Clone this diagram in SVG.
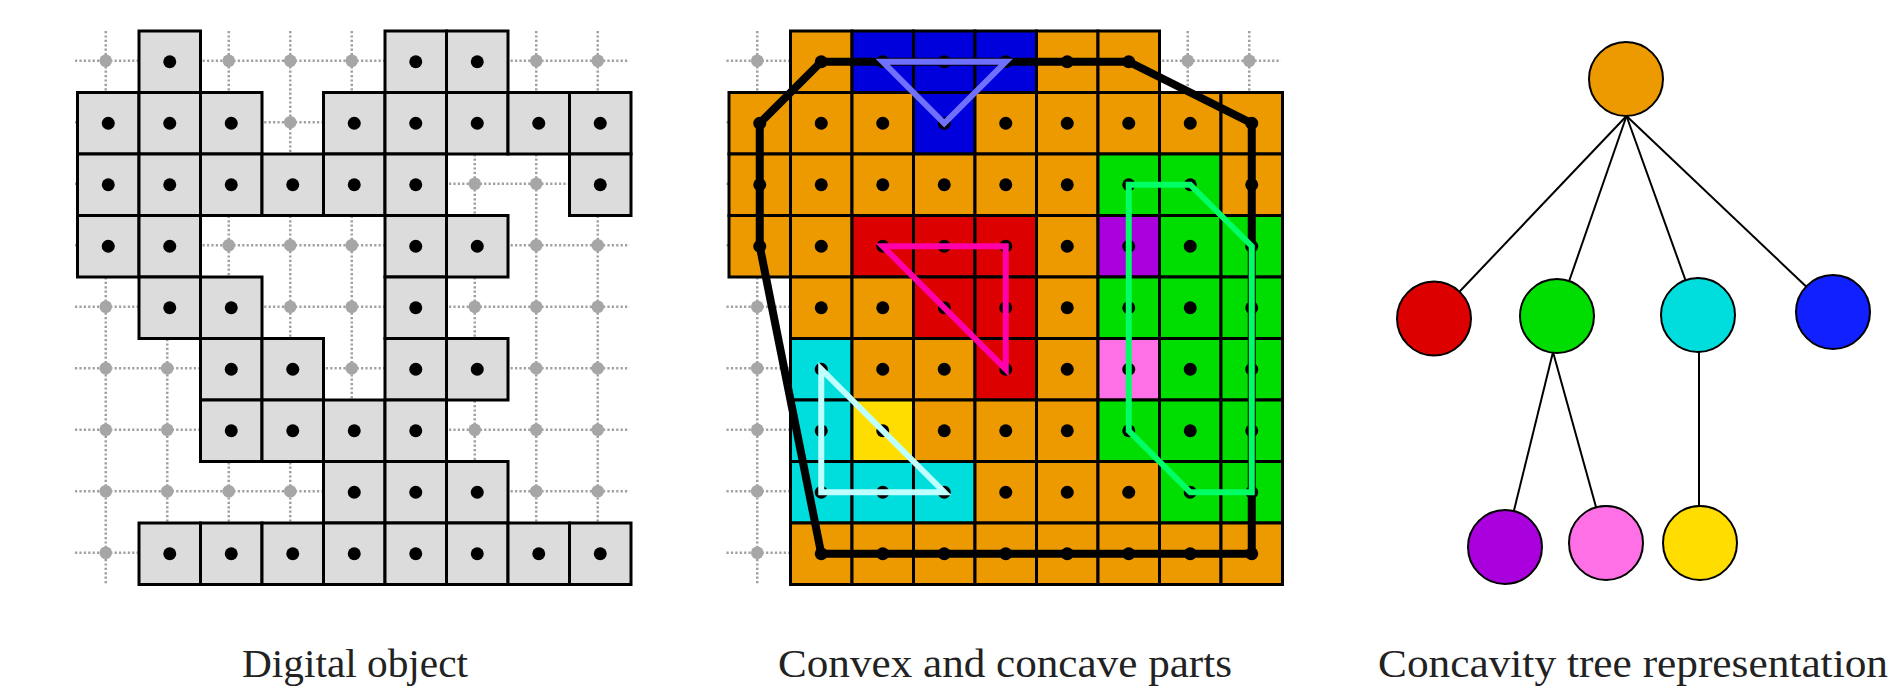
<svg xmlns="http://www.w3.org/2000/svg" xmlns:xlink="http://www.w3.org/1999/xlink" width="1891" height="688" viewBox="0 0 1891 688">
<style>
.grid{fill:none;stroke:#a0a0a0;stroke-width:2.5;stroke-dasharray:2.2 2.2}
.gp{fill:#a6a6a6}
.cell{stroke:#000;stroke-width:3}
.g{fill:#dcdcdc}
.O{fill:#ec9a00}.B{fill:#0000dd}.R{fill:#dd0000}.G{fill:#00dd00}.P{fill:#aa00dd}.K{fill:#ff70e6}.C{fill:#00dddd}.Y{fill:#ffdd00}
.dot{fill:#000}
.hull{fill:none;stroke:#000;stroke-width:8;stroke-linejoin:round}
.cc{fill:none;stroke-width:6;stroke-linejoin:miter}
.edge{stroke:#000;stroke-width:2;fill:none}
.node{stroke:#000;stroke-width:2}
.lbl{font-family:"Liberation Serif","DejaVu Serif",serif;font-size:40px;fill:#222;text-anchor:middle}
</style>
<defs>
<rect id="c" width="61.5" height="61.5"/>
</defs>
<rect width="1891" height="688" fill="#fff"/>

<g id="digital-object">
<path class="grid" d="M105.75 31V584.5M167.25 31V584.5M228.75 31V584.5M290.25 31V584.5M351.75 31V584.5M413.25 31V584.5M474.75 31V584.5M536.25 31V584.5M597.75 31V584.5M75 60.75H629.5M75 122.25H629.5M75 183.75H629.5M75 245.25H629.5M75 306.75H629.5M75 368.25H629.5M75 429.75H629.5M75 491.25H629.5M75 552.75H629.5"/>
<g class="gp">
<circle cx="105.75" cy="60.75" r="6.3"/><circle cx="228.75" cy="60.75" r="6.3"/><circle cx="290.25" cy="60.75" r="6.3"/><circle cx="351.75" cy="60.75" r="6.3"/><circle cx="536.25" cy="60.75" r="6.3"/><circle cx="597.75" cy="60.75" r="6.3"/>
<circle cx="290.25" cy="122.25" r="6.3"/>
<circle cx="474.75" cy="183.75" r="6.3"/><circle cx="536.25" cy="183.75" r="6.3"/>
<circle cx="228.75" cy="245.25" r="6.3"/><circle cx="290.25" cy="245.25" r="6.3"/><circle cx="351.75" cy="245.25" r="6.3"/><circle cx="536.25" cy="245.25" r="6.3"/><circle cx="597.75" cy="245.25" r="6.3"/>
<circle cx="105.75" cy="306.75" r="6.3"/><circle cx="290.25" cy="306.75" r="6.3"/><circle cx="351.75" cy="306.75" r="6.3"/><circle cx="474.75" cy="306.75" r="6.3"/><circle cx="536.25" cy="306.75" r="6.3"/><circle cx="597.75" cy="306.75" r="6.3"/>
<circle cx="105.75" cy="368.25" r="6.3"/><circle cx="167.25" cy="368.25" r="6.3"/><circle cx="351.75" cy="368.25" r="6.3"/><circle cx="536.25" cy="368.25" r="6.3"/><circle cx="597.75" cy="368.25" r="6.3"/>
<circle cx="105.75" cy="429.75" r="6.3"/><circle cx="167.25" cy="429.75" r="6.3"/><circle cx="474.75" cy="429.75" r="6.3"/><circle cx="536.25" cy="429.75" r="6.3"/><circle cx="597.75" cy="429.75" r="6.3"/>
<circle cx="105.75" cy="491.25" r="6.3"/><circle cx="167.25" cy="491.25" r="6.3"/><circle cx="228.75" cy="491.25" r="6.3"/><circle cx="290.25" cy="491.25" r="6.3"/><circle cx="536.25" cy="491.25" r="6.3"/><circle cx="597.75" cy="491.25" r="6.3"/>
<circle cx="105.75" cy="552.75" r="6.3"/>
</g>
<g class="cell g">
<use xlink:href="#c" x="139" y="31"/><use xlink:href="#c" x="385" y="31"/><use xlink:href="#c" x="446.5" y="31"/>
<use xlink:href="#c" x="77.5" y="92.5"/><use xlink:href="#c" x="139" y="92.5"/><use xlink:href="#c" x="200.5" y="92.5"/><use xlink:href="#c" x="323.5" y="92.5"/><use xlink:href="#c" x="385" y="92.5"/><use xlink:href="#c" x="446.5" y="92.5"/><use xlink:href="#c" x="508" y="92.5"/><use xlink:href="#c" x="569.5" y="92.5"/>
<use xlink:href="#c" x="77.5" y="154"/><use xlink:href="#c" x="139" y="154"/><use xlink:href="#c" x="200.5" y="154"/><use xlink:href="#c" x="262" y="154"/><use xlink:href="#c" x="323.5" y="154"/><use xlink:href="#c" x="385" y="154"/><use xlink:href="#c" x="569.5" y="154"/>
<use xlink:href="#c" x="77.5" y="215.5"/><use xlink:href="#c" x="139" y="215.5"/><use xlink:href="#c" x="385" y="215.5"/><use xlink:href="#c" x="446.5" y="215.5"/>
<use xlink:href="#c" x="139" y="277"/><use xlink:href="#c" x="200.5" y="277"/><use xlink:href="#c" x="385" y="277"/>
<use xlink:href="#c" x="200.5" y="338.5"/><use xlink:href="#c" x="262" y="338.5"/><use xlink:href="#c" x="385" y="338.5"/><use xlink:href="#c" x="446.5" y="338.5"/>
<use xlink:href="#c" x="200.5" y="400"/><use xlink:href="#c" x="262" y="400"/><use xlink:href="#c" x="323.5" y="400"/><use xlink:href="#c" x="385" y="400"/>
<use xlink:href="#c" x="323.5" y="461.5"/><use xlink:href="#c" x="385" y="461.5"/><use xlink:href="#c" x="446.5" y="461.5"/>
<use xlink:href="#c" x="139" y="523"/><use xlink:href="#c" x="200.5" y="523"/><use xlink:href="#c" x="262" y="523"/><use xlink:href="#c" x="323.5" y="523"/><use xlink:href="#c" x="385" y="523"/><use xlink:href="#c" x="446.5" y="523"/><use xlink:href="#c" x="508" y="523"/><use xlink:href="#c" x="569.5" y="523"/>
</g>
<g class="dot">
<circle cx="169.75" cy="61.75" r="6.5"/><circle cx="415.75" cy="61.75" r="6.5"/><circle cx="477.25" cy="61.75" r="6.5"/>
<circle cx="108.25" cy="123.25" r="6.5"/><circle cx="169.75" cy="123.25" r="6.5"/><circle cx="231.25" cy="123.25" r="6.5"/><circle cx="354.25" cy="123.25" r="6.5"/><circle cx="415.75" cy="123.25" r="6.5"/><circle cx="477.25" cy="123.25" r="6.5"/><circle cx="538.75" cy="123.25" r="6.5"/><circle cx="600.25" cy="123.25" r="6.5"/>
<circle cx="108.25" cy="184.75" r="6.5"/><circle cx="169.75" cy="184.75" r="6.5"/><circle cx="231.25" cy="184.75" r="6.5"/><circle cx="292.75" cy="184.75" r="6.5"/><circle cx="354.25" cy="184.75" r="6.5"/><circle cx="415.75" cy="184.75" r="6.5"/><circle cx="600.25" cy="184.75" r="6.5"/>
<circle cx="108.25" cy="246.25" r="6.5"/><circle cx="169.75" cy="246.25" r="6.5"/><circle cx="415.75" cy="246.25" r="6.5"/><circle cx="477.25" cy="246.25" r="6.5"/>
<circle cx="169.75" cy="307.75" r="6.5"/><circle cx="231.25" cy="307.75" r="6.5"/><circle cx="415.75" cy="307.75" r="6.5"/>
<circle cx="231.25" cy="369.25" r="6.5"/><circle cx="292.75" cy="369.25" r="6.5"/><circle cx="415.75" cy="369.25" r="6.5"/><circle cx="477.25" cy="369.25" r="6.5"/>
<circle cx="231.25" cy="430.75" r="6.5"/><circle cx="292.75" cy="430.75" r="6.5"/><circle cx="354.25" cy="430.75" r="6.5"/><circle cx="415.75" cy="430.75" r="6.5"/>
<circle cx="354.25" cy="492.25" r="6.5"/><circle cx="415.75" cy="492.25" r="6.5"/><circle cx="477.25" cy="492.25" r="6.5"/>
<circle cx="169.75" cy="553.75" r="6.5"/><circle cx="231.25" cy="553.75" r="6.5"/><circle cx="292.75" cy="553.75" r="6.5"/><circle cx="354.25" cy="553.75" r="6.5"/><circle cx="415.75" cy="553.75" r="6.5"/><circle cx="477.25" cy="553.75" r="6.5"/><circle cx="538.75" cy="553.75" r="6.5"/><circle cx="600.25" cy="553.75" r="6.5"/>
</g>
</g>

<g id="convex-concave-parts">
<path class="grid" d="M757.25 31V584.5M818.75 31V584.5M880.25 31V584.5M941.75 31V584.5M1003.25 31V584.5M1064.75 31V584.5M1126.25 31V584.5M1187.75 31V584.5M1249.25 31V584.5M726.5 60.75H1281M726.5 122.25H1281M726.5 183.75H1281M726.5 245.25H1281M726.5 306.75H1281M726.5 368.25H1281M726.5 429.75H1281M726.5 491.25H1281M726.5 552.75H1281"/>
<g class="gp">
<circle cx="757.25" cy="60.75" r="6.3"/><circle cx="1187.75" cy="60.75" r="6.3"/><circle cx="1249.25" cy="60.75" r="6.3"/>
<circle cx="757.25" cy="306.75" r="6.3"/><circle cx="757.25" cy="368.25" r="6.3"/><circle cx="757.25" cy="429.75" r="6.3"/><circle cx="757.25" cy="491.25" r="6.3"/><circle cx="757.25" cy="552.75" r="6.3"/>
</g>
<g class="cell">
<use class="O" xlink:href="#c" x="790.5" y="31"/><use class="B" xlink:href="#c" x="852" y="31"/><use class="B" xlink:href="#c" x="913.5" y="31"/><use class="B" xlink:href="#c" x="975" y="31"/><use class="O" xlink:href="#c" x="1036.5" y="31"/><use class="O" xlink:href="#c" x="1098" y="31"/>
<use class="O" xlink:href="#c" x="729" y="92.5"/><use class="O" xlink:href="#c" x="790.5" y="92.5"/><use class="O" xlink:href="#c" x="852" y="92.5"/><use class="B" xlink:href="#c" x="913.5" y="92.5"/><use class="O" xlink:href="#c" x="975" y="92.5"/><use class="O" xlink:href="#c" x="1036.5" y="92.5"/><use class="O" xlink:href="#c" x="1098" y="92.5"/><use class="O" xlink:href="#c" x="1159.5" y="92.5"/><use class="O" xlink:href="#c" x="1221" y="92.5"/>
<use class="O" xlink:href="#c" x="729" y="154"/><use class="O" xlink:href="#c" x="790.5" y="154"/><use class="O" xlink:href="#c" x="852" y="154"/><use class="O" xlink:href="#c" x="913.5" y="154"/><use class="O" xlink:href="#c" x="975" y="154"/><use class="O" xlink:href="#c" x="1036.5" y="154"/><use class="G" xlink:href="#c" x="1098" y="154"/><use class="G" xlink:href="#c" x="1159.5" y="154"/><use class="O" xlink:href="#c" x="1221" y="154"/>
<use class="O" xlink:href="#c" x="729" y="215.5"/><use class="O" xlink:href="#c" x="790.5" y="215.5"/><use class="R" xlink:href="#c" x="852" y="215.5"/><use class="R" xlink:href="#c" x="913.5" y="215.5"/><use class="R" xlink:href="#c" x="975" y="215.5"/><use class="O" xlink:href="#c" x="1036.5" y="215.5"/><use class="P" xlink:href="#c" x="1098" y="215.5"/><use class="G" xlink:href="#c" x="1159.5" y="215.5"/><use class="G" xlink:href="#c" x="1221" y="215.5"/>
<use class="O" xlink:href="#c" x="790.5" y="277"/><use class="O" xlink:href="#c" x="852" y="277"/><use class="R" xlink:href="#c" x="913.5" y="277"/><use class="R" xlink:href="#c" x="975" y="277"/><use class="O" xlink:href="#c" x="1036.5" y="277"/><use class="G" xlink:href="#c" x="1098" y="277"/><use class="G" xlink:href="#c" x="1159.5" y="277"/><use class="G" xlink:href="#c" x="1221" y="277"/>
<use class="C" xlink:href="#c" x="790.5" y="338.5"/><use class="O" xlink:href="#c" x="852" y="338.5"/><use class="O" xlink:href="#c" x="913.5" y="338.5"/><use class="R" xlink:href="#c" x="975" y="338.5"/><use class="O" xlink:href="#c" x="1036.5" y="338.5"/><use class="K" xlink:href="#c" x="1098" y="338.5"/><use class="G" xlink:href="#c" x="1159.5" y="338.5"/><use class="G" xlink:href="#c" x="1221" y="338.5"/>
<use class="C" xlink:href="#c" x="790.5" y="400"/><use class="Y" xlink:href="#c" x="852" y="400"/><use class="O" xlink:href="#c" x="913.5" y="400"/><use class="O" xlink:href="#c" x="975" y="400"/><use class="O" xlink:href="#c" x="1036.5" y="400"/><use class="G" xlink:href="#c" x="1098" y="400"/><use class="G" xlink:href="#c" x="1159.5" y="400"/><use class="G" xlink:href="#c" x="1221" y="400"/>
<use class="C" xlink:href="#c" x="790.5" y="461.5"/><use class="C" xlink:href="#c" x="852" y="461.5"/><use class="C" xlink:href="#c" x="913.5" y="461.5"/><use class="O" xlink:href="#c" x="975" y="461.5"/><use class="O" xlink:href="#c" x="1036.5" y="461.5"/><use class="O" xlink:href="#c" x="1098" y="461.5"/><use class="G" xlink:href="#c" x="1159.5" y="461.5"/><use class="G" xlink:href="#c" x="1221" y="461.5"/>
<use class="O" xlink:href="#c" x="790.5" y="523"/><use class="O" xlink:href="#c" x="852" y="523"/><use class="O" xlink:href="#c" x="913.5" y="523"/><use class="O" xlink:href="#c" x="975" y="523"/><use class="O" xlink:href="#c" x="1036.5" y="523"/><use class="O" xlink:href="#c" x="1098" y="523"/><use class="O" xlink:href="#c" x="1159.5" y="523"/><use class="O" xlink:href="#c" x="1221" y="523"/>
</g>
<g class="dot">
<circle cx="821.25" cy="61.75" r="6.5"/><circle cx="882.75" cy="61.75" r="6.5"/><circle cx="944.25" cy="61.75" r="6.5"/><circle cx="1005.75" cy="61.75" r="6.5"/><circle cx="1067.25" cy="61.75" r="6.5"/><circle cx="1128.75" cy="61.75" r="6.5"/>
<circle cx="759.75" cy="123.25" r="6.5"/><circle cx="821.25" cy="123.25" r="6.5"/><circle cx="882.75" cy="123.25" r="6.5"/><circle cx="944.25" cy="123.25" r="6.5"/><circle cx="1005.75" cy="123.25" r="6.5"/><circle cx="1067.25" cy="123.25" r="6.5"/><circle cx="1128.75" cy="123.25" r="6.5"/><circle cx="1190.25" cy="123.25" r="6.5"/><circle cx="1251.75" cy="123.25" r="6.5"/>
<circle cx="759.75" cy="184.75" r="6.5"/><circle cx="821.25" cy="184.75" r="6.5"/><circle cx="882.75" cy="184.75" r="6.5"/><circle cx="944.25" cy="184.75" r="6.5"/><circle cx="1005.75" cy="184.75" r="6.5"/><circle cx="1067.25" cy="184.75" r="6.5"/><circle cx="1128.75" cy="184.75" r="6.5"/><circle cx="1190.25" cy="184.75" r="6.5"/><circle cx="1251.75" cy="184.75" r="6.5"/>
<circle cx="759.75" cy="246.25" r="6.5"/><circle cx="821.25" cy="246.25" r="6.5"/><circle cx="882.75" cy="246.25" r="6.5"/><circle cx="944.25" cy="246.25" r="6.5"/><circle cx="1005.75" cy="246.25" r="6.5"/><circle cx="1067.25" cy="246.25" r="6.5"/><circle cx="1128.75" cy="246.25" r="6.5"/><circle cx="1190.25" cy="246.25" r="6.5"/><circle cx="1251.75" cy="246.25" r="6.5"/>
<circle cx="821.25" cy="307.75" r="6.5"/><circle cx="882.75" cy="307.75" r="6.5"/><circle cx="944.25" cy="307.75" r="6.5"/><circle cx="1005.75" cy="307.75" r="6.5"/><circle cx="1067.25" cy="307.75" r="6.5"/><circle cx="1128.75" cy="307.75" r="6.5"/><circle cx="1190.25" cy="307.75" r="6.5"/><circle cx="1251.75" cy="307.75" r="6.5"/>
<circle cx="821.25" cy="369.25" r="6.5"/><circle cx="882.75" cy="369.25" r="6.5"/><circle cx="944.25" cy="369.25" r="6.5"/><circle cx="1005.75" cy="369.25" r="6.5"/><circle cx="1067.25" cy="369.25" r="6.5"/><circle cx="1128.75" cy="369.25" r="6.5"/><circle cx="1190.25" cy="369.25" r="6.5"/><circle cx="1251.75" cy="369.25" r="6.5"/>
<circle cx="821.25" cy="430.75" r="6.5"/><circle cx="882.75" cy="430.75" r="6.5"/><circle cx="944.25" cy="430.75" r="6.5"/><circle cx="1005.75" cy="430.75" r="6.5"/><circle cx="1067.25" cy="430.75" r="6.5"/><circle cx="1128.75" cy="430.75" r="6.5"/><circle cx="1190.25" cy="430.75" r="6.5"/><circle cx="1251.75" cy="430.75" r="6.5"/>
<circle cx="821.25" cy="492.25" r="6.5"/><circle cx="882.75" cy="492.25" r="6.5"/><circle cx="944.25" cy="492.25" r="6.5"/><circle cx="1005.75" cy="492.25" r="6.5"/><circle cx="1067.25" cy="492.25" r="6.5"/><circle cx="1128.75" cy="492.25" r="6.5"/><circle cx="1190.25" cy="492.25" r="6.5"/><circle cx="1251.75" cy="492.25" r="6.5"/>
<circle cx="821.25" cy="553.75" r="6.5"/><circle cx="882.75" cy="553.75" r="6.5"/><circle cx="944.25" cy="553.75" r="6.5"/><circle cx="1005.75" cy="553.75" r="6.5"/><circle cx="1067.25" cy="553.75" r="6.5"/><circle cx="1128.75" cy="553.75" r="6.5"/><circle cx="1190.25" cy="553.75" r="6.5"/><circle cx="1251.75" cy="553.75" r="6.5"/>
</g>
<polygon class="hull" points="821.25,61.75 1128.75,61.75 1251.75,123.25 1251.75,553.75 821.25,553.75 759.75,246.25 759.75,123.25"/>
<polygon class="cc" stroke="#7070ff" points="882.75,61.75 1005.75,61.75 944.25,123.25"/>
<polygon class="cc" stroke="#ff00aa" points="882.75,246.25 1005.75,246.25 1005.75,369.25"/>
<polygon class="cc" stroke="#c0ffff" points="821.25,369.25 821.25,492.25 944.25,492.25"/>
<polygon class="cc" stroke="#00ff66" points="1128.75,184.75 1190.25,184.75 1251.75,246.25 1251.75,492.25 1190.25,492.25 1128.75,430.75"/>
</g>

<g id="connectors">
<line class="edge" x1="1626.5" y1="116" x2="1434" y2="318.5"/>
<line class="edge" x1="1626.5" y1="116" x2="1557" y2="316"/>
<line class="edge" x1="1626.5" y1="116" x2="1698" y2="315"/>
<line class="edge" x1="1626.5" y1="116" x2="1833" y2="312"/>
<line class="edge" x1="1553" y1="352" x2="1505" y2="547"/>
<line class="edge" x1="1553" y1="352" x2="1606" y2="543"/>
<line class="edge" x1="1699" y1="340" x2="1699" y2="543"/>
</g>
<g id="node-root"><circle class="node" cx="1626" cy="79" r="37" fill="#ec9a00"/></g>
<g id="node-red"><circle class="node" cx="1434" cy="318.5" r="37" fill="#dd0000"/></g>
<g id="node-green"><circle class="node" cx="1557" cy="316" r="37" fill="#00dd00"/></g>
<g id="node-cyan"><circle class="node" cx="1698" cy="315" r="37" fill="#00dddd"/></g>
<g id="node-blue"><circle class="node" cx="1833" cy="312" r="37" fill="#1020ff"/></g>
<g id="node-purple"><circle class="node" cx="1505" cy="547" r="37" fill="#aa00dd"/></g>
<g id="node-pink"><circle class="node" cx="1606" cy="543" r="37" fill="#ff70e6"/></g>
<g id="node-yellow"><circle class="node" cx="1700" cy="543" r="37" fill="#ffdd00"/></g>

<g id="labels">
<text class="lbl" x="355" y="677" textLength="226" lengthAdjust="spacingAndGlyphs">Digital object</text>
<text class="lbl" x="1005" y="677" textLength="454" lengthAdjust="spacingAndGlyphs">Convex and concave parts</text>
<text class="lbl" x="1633" y="677" textLength="510" lengthAdjust="spacingAndGlyphs">Concavity tree representation</text>
</g>
</svg>
